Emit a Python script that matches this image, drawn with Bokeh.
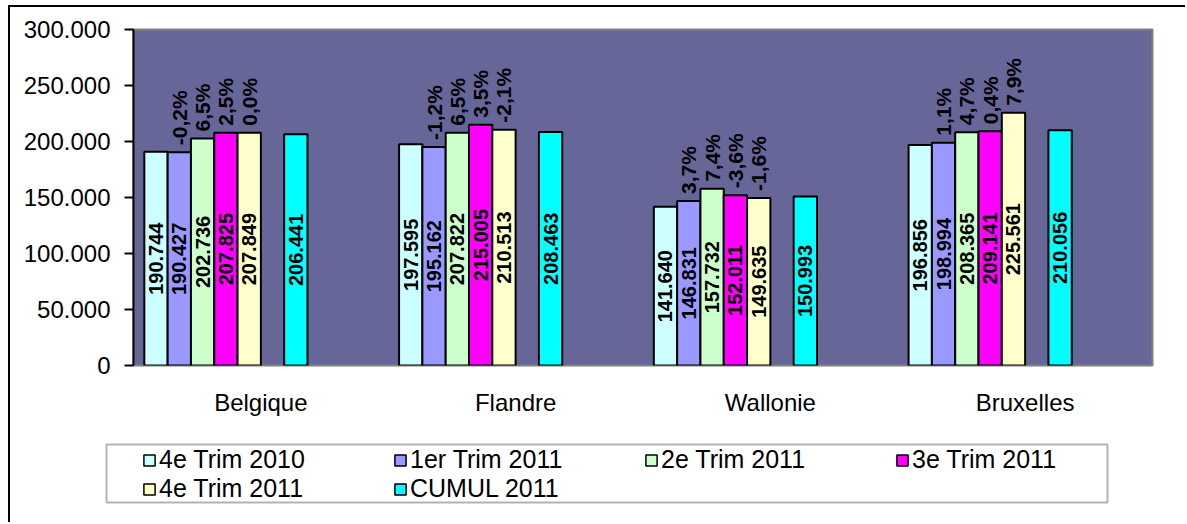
import math
from bokeh.plotting import figure
from bokeh.models import FixedTicker, Legend, LegendItem, Range1d, BoxAnnotation
from bokeh.core.properties import value
from bokeh.embed import file_html
from bokeh.resources import INLINE

# ---------------- data ----------------
regions = ["Belgique", "Flandre", "Wallonie", "Bruxelles"]
series_names = ["4e Trim 2010", "1er Trim 2011", "2e Trim 2011",
                "3e Trim 2011", "4e Trim 2011", "CUMUL 2011"]
t4_2010 = [190744, 197595, 141640, 196856]
t1_2011 = [190427, 195162, 146831, 198994]
t2_2011 = [202736, 207822, 157732, 208365]
t3_2011 = [207825, 215005, 152011, 209141]
t4_2011 = [207849, 210513, 149635, 225561]
cumul_2011 = [206441, 208463, 150993, 210056]
pct_t1_2011 = ["-0,2%", "-1,2%", "3,7%", "1,1%"]
pct_t2_2011 = ["6,5%", "6,5%", "7,4%", "4,7%"]
pct_t3_2011 = ["2,5%", "3,5%", "-3,6%", "0,4%"]
pct_t4_2011 = ["0,0%", "-2,1%", "-1,6%", "7,9%"]
y_ticks = [0, 50000, 100000, 150000, 200000, 250000, 300000]
y_tick_labels = ["0", "50.000", "100.000", "150.000", "200.000", "250.000", "300.000"]

series_values = [t4_2010, t1_2011, t2_2011, t3_2011, t4_2011, cumul_2011]
series_pct = [None, pct_t1_2011, pct_t2_2011, pct_t3_2011, pct_t4_2011, None]
colors = ["#CCFFFF", "#9999FF", "#CCFFCC", "#FF00FF", "#FFFFCC", "#00FFFF"]
slots = [0, 1, 2, 3, 4, 6]
n_slots = 10
bar_w = 0.0915
left_pad = (1 - n_slots * bar_w) / 2

FONT = "Liberation Sans"
W_TOTAL, H_MAIN, H_LEG = 1177, 423, 94


def fmt(v):
    return f"{v:,}".replace(",", ".")


p = figure(width=W_TOTAL, height=H_MAIN,
           x_range=Range1d(0, 4), y_range=Range1d(0, 300000),
           output_backend="svg", toolbar_location=None,
           min_border_left=123, min_border_right=35,
           min_border_top=22, min_border_bottom=65,
           background_fill_color="#666699", border_fill_color="white",
           outline_line_color="#808080", outline_line_width=2,
           margin=(5, 0, 0, 8),
           styles={"border-top": "2px solid black",
                   "border-left": "2px solid black"})
p.xgrid.visible = False
p.ygrid.visible = False

# axes
p.xaxis.ticker = FixedTicker(ticks=[i + 0.5 for i in range(len(regions))])
p.xaxis.major_label_overrides = {i + 0.5: r for i, r in enumerate(regions)}
p.xaxis.axis_line_color = None
p.xaxis.major_tick_line_color = None
p.xaxis.major_tick_out = 0
p.xaxis.major_tick_in = 0
p.xaxis.minor_tick_line_color = None
p.xaxis.major_label_standoff = 23
p.xaxis.major_label_text_font = FONT
p.xaxis.major_label_text_font_size = "24px"
p.xaxis.major_label_text_color = "black"

p.yaxis.ticker = FixedTicker(ticks=y_ticks)
p.yaxis.major_label_overrides = {t: l for t, l in zip(y_ticks, y_tick_labels)}
p.yaxis.axis_line_color = "black"
p.yaxis.axis_line_width = 2
p.yaxis.major_tick_line_color = "black"
p.yaxis.major_tick_line_width = 2
p.yaxis.major_tick_out = 9
p.yaxis.major_tick_in = 0
p.yaxis.minor_tick_line_color = None
p.yaxis.major_label_standoff = 14
p.yaxis.major_label_text_font = FONT
p.yaxis.major_label_text_font_size = "24px"
p.yaxis.major_label_text_color = "black"

# ---------------- legend strip (separate root, no frame alignment) ----------------
lg = figure(width=W_TOTAL, height=H_LEG,
            x_range=Range1d(0, W_TOTAL), y_range=Range1d(0, H_LEG),
            x_axis_type=None, y_axis_type=None,
            output_backend="svg", toolbar_location=None,
            min_border=0, outline_line_color=None,
            background_fill_color="white", border_fill_color="white",
            margin=(0, 0, 0, 8),
            styles={"border-left": "2px solid black"})
lg.xgrid.visible = False
lg.ygrid.visible = False
lg.add_layout(BoxAnnotation(left=96, right=1097, bottom=20, top=78,
                            fill_color="white", fill_alpha=1.0,
                            line_color="black", line_width=2, level="underlay"))

items = []
for k, (name, vals, col, slot, pcts) in enumerate(
        zip(series_names, series_values, colors, slots, series_pct)):
    xs = [i + left_pad + (slot + 0.5) * bar_w for i in range(len(regions))]
    p.vbar(x=xs, top=vals, bottom=0, width=bar_w,
           fill_color=col, line_color="black", line_width=2)
    p.text(x=xs, y=[v / 2 for v in vals], text=[fmt(v) for v in vals],
           angle=math.pi / 2, text_align="center", text_baseline="middle",
           text_font=value(FONT), text_font_style="bold",
           text_font_size="20px", text_color="black")
    if pcts is not None:
        p.text(x=xs, y=vals, text=pcts, angle=math.pi / 2,
               text_align="left", text_baseline="middle", y_offset=-7,
               text_font=value(FONT), text_font_style="bold",
               text_font_size="21px", text_color="black")
    # legend proxy of the same series (hidden in the strip)
    r = lg.vbar(x=xs, top=vals, bottom=0, width=bar_w, visible=False,
                fill_color=col, line_color="black", line_width=1.5)
    items.append(LegendItem(label=name, renderers=[r]))

legend = Legend(items=items, location=(132, 19), orientation="horizontal",
                ncols=4, label_text_font=FONT, label_text_font_size="25px",
                label_text_color="black",
                glyph_width=14, glyph_height=14, label_standoff=3,
                label_width=234, spacing=0, padding=0, margin=0,
                inactive_fill_alpha=0.0,
                border_line_color=None, background_fill_alpha=0.0)
lg.add_layout(legend)

open("out.html", "w").write(file_html([p, lg], INLINE))
